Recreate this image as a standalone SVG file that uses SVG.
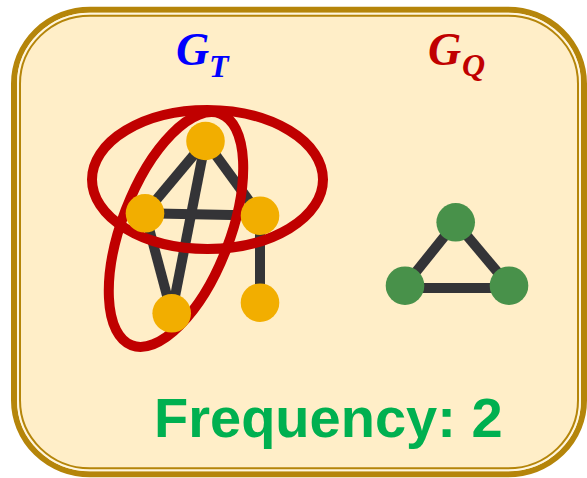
<svg xmlns="http://www.w3.org/2000/svg" width="587" height="478" viewBox="0 0 587 478">
  <style>
    .edge { stroke: #343437; stroke-width: 10; stroke-linecap: butt; fill: none; }
    .nodeT { fill: #F2AE00; }
    .nodeQ { fill: #48914A; }
    .hl { fill: none; stroke: #C00000; stroke-width: 10; }
    .math { font-family: "Liberation Serif", "DejaVu Serif", serif; font-style: italic; font-weight: bold; }
  </style>
  <rect width="587" height="478" fill="#FFFFFF"/>
  <g id="frame">
    <rect x="14" y="9.7" width="570" height="464.6" rx="76" ry="74" fill="#FFEEC8" stroke="#B5850A" stroke-width="6"/>
    <rect x="18" y="13.7" width="562" height="456.6" rx="72" ry="70" fill="none" stroke="#FFF6DF" stroke-width="2"/>
    <rect x="20" y="15.7" width="558" height="452.6" rx="70" ry="68" fill="none" stroke="#B5850A" stroke-width="2"/>
  </g>
  <g id="label-GT" class="math" fill="#0000FF">
    <text x="176" y="65" font-size="46">G</text>
    <text x="209" y="77" font-size="32">T</text>
  </g>
  <g id="label-GQ" class="math" fill="#C00000">
    <text x="428" y="65" font-size="46">G</text>
    <text x="462" y="76" font-size="32">Q</text>
  </g>
  <g id="connectors">
    <line class="edge" x1="205.5" y1="141" x2="145" y2="213.3"/>
    <line class="edge" x1="205.5" y1="141" x2="260" y2="215.7"/>
    <line class="edge" x1="205.5" y1="141" x2="171.7" y2="313.3"/>
    <line class="edge" x1="145" y1="213.3" x2="260" y2="215.7"/>
    <line class="edge" x1="145" y1="213.3" x2="171.7" y2="313.3"/>
    <line class="edge" x1="260" y1="215.7" x2="260" y2="302.7"/>
    <line class="edge" x1="455.7" y1="222.3" x2="405" y2="285.7"/>
    <line class="edge" x1="455.7" y1="222.3" x2="509" y2="285.7"/>
    <line class="edge" x1="405" y1="288" x2="509" y2="288"/>
  </g>
  <g id="highlights">
    <ellipse id="hl-horizontal" class="hl" cx="207.5" cy="179.5" rx="115.5" ry="69.5"/>
    <ellipse id="hl-tilted" class="hl" cx="176" cy="229.5" rx="54" ry="124" transform="rotate(21 176 229.5)"/>
  </g>
  <g id="t1"><circle class="nodeT" cx="205.5" cy="141" r="19.3"/></g>
  <g id="t2"><circle class="nodeT" cx="145" cy="213.3" r="19.3"/></g>
  <g id="t3"><circle class="nodeT" cx="260" cy="215.7" r="19.3"/></g>
  <g id="t4"><circle class="nodeT" cx="171.7" cy="313.3" r="19.3"/></g>
  <g id="t5"><circle class="nodeT" cx="260" cy="302.7" r="19.3"/></g>
  <g id="q1"><circle class="nodeQ" cx="455.7" cy="222.3" r="19.3"/></g>
  <g id="q2"><circle class="nodeQ" cx="405" cy="285.7" r="19.3"/></g>
  <g id="q3"><circle class="nodeQ" cx="509" cy="285.7" r="19.3"/></g>
  <g id="frequency">
    <text x="154" y="437" font-family="Liberation Sans, Arial, sans-serif" font-weight="bold" font-size="56" fill="#00B050">Frequency: 2</text>
  </g>
</svg>
